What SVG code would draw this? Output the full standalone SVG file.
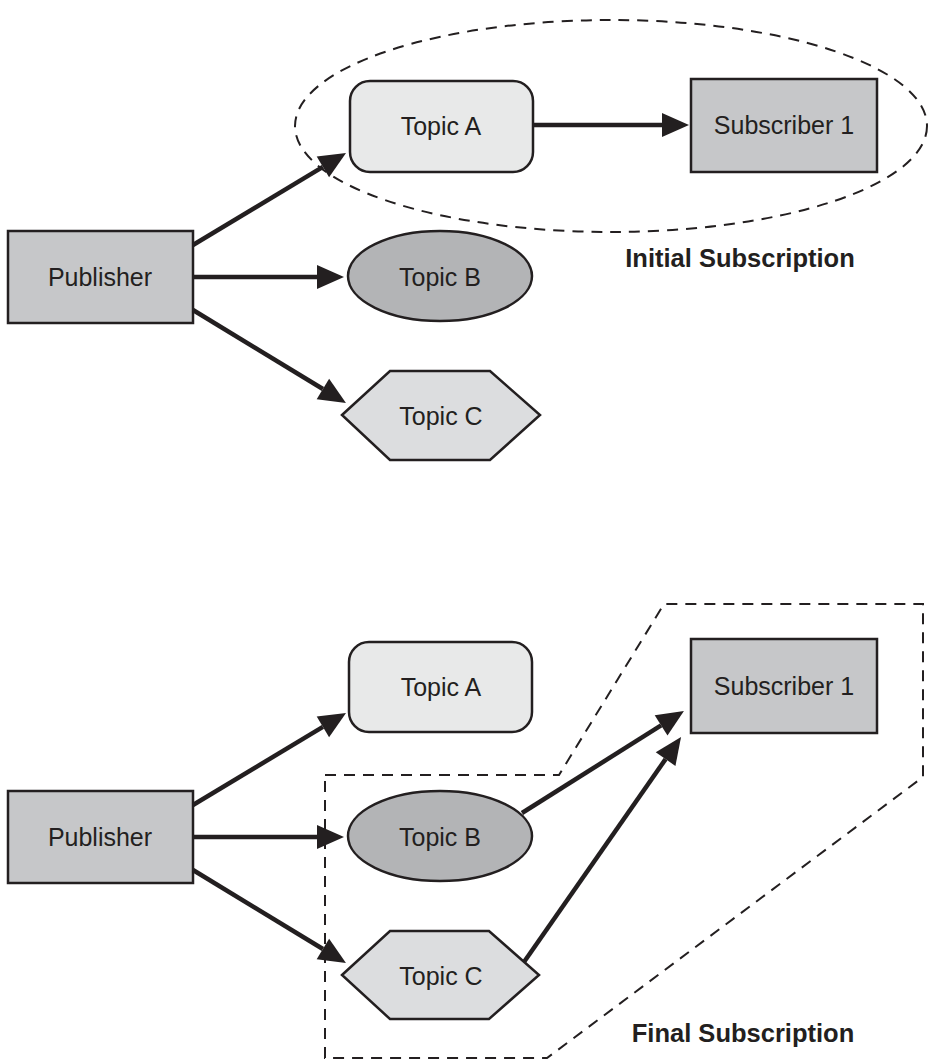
<svg xmlns="http://www.w3.org/2000/svg" width="934" height="1060" viewBox="0 0 934 1060">
<style>
.node{stroke:#231f20;stroke-width:2.5}
.lbl{font-family:"Liberation Sans",Arial,sans-serif;font-size:25px;fill:#231f20;text-anchor:middle}
.cap{font-family:"Liberation Sans",Arial,sans-serif;font-size:25.5px;font-weight:bold;fill:#231f20;text-anchor:middle}
.conn{stroke:#231f20;stroke-width:4.5;fill:none;marker-end:url(#ah)}
.dash{stroke:#231f20;stroke-width:2;fill:none;stroke-dasharray:11 8}
</style>
<defs>
<marker id="ah" markerUnits="userSpaceOnUse" markerWidth="28" markerHeight="26" refX="0" refY="13" orient="auto" overflow="visible">
<path d="M0,1 L27,13 L0,25 Z" fill="#231f20"/>
</marker>
</defs>
<rect width="934" height="1060" fill="#fff"/>

<!-- Top section -->
<g id="initial-group">
<ellipse cx="611" cy="126" rx="316" ry="106" class="dash"/>
<text x="740" y="267" class="cap">Initial Subscription</text>
</g>
<g id="pub1"><rect x="8" y="231" width="185" height="92" fill="#c6c7c9" class="node"/><text x="100" y="286" class="lbl">Publisher</text></g>
<g id="topicA1"><rect x="350" y="81" width="183" height="91" rx="20" fill="#e8e9e9" class="node"/><text x="441" y="135" class="lbl">Topic A</text></g>
<g id="sub1a"><rect x="691" y="79" width="186" height="93" fill="#c6c7c9" class="node"/><text x="784" y="134" class="lbl">Subscriber 1</text></g>
<g id="topicB1"><ellipse cx="440" cy="276" rx="92" ry="45" fill="#b3b4b6" class="node"/><text x="440" y="286" class="lbl">Topic B</text></g>
<g id="topicC1"><polygon points="342,415 390,371 490,371 540,415 490,460 390,460" fill="#dcdddf" class="node"/><text x="441" y="425" class="lbl">Topic C</text></g>

<!-- Bottom section -->
<g id="final-group">
<polygon points="325,775 559,775 664,604 923,604 923,777 547,1058 325,1058" class="dash"/>
<text x="743" y="1042" class="cap">Final Subscription</text>
</g>
<g id="pub2"><rect x="8" y="791" width="185" height="92" fill="#c6c7c9" class="node"/><text x="100" y="846" class="lbl">Publisher</text></g>
<g id="topicA2"><rect x="349" y="642" width="183" height="90" rx="20" fill="#e8e9e9" class="node"/><text x="441" y="696" class="lbl">Topic A</text></g>
<g id="sub1b"><rect x="691" y="639" width="186" height="94" fill="#c6c7c9" class="node"/><text x="784" y="695" class="lbl">Subscriber 1</text></g>
<g id="topicB2"><ellipse cx="440" cy="836" rx="92" ry="45" fill="#b3b4b6" class="node"/><text x="440" y="846" class="lbl">Topic B</text></g>
<g id="topicC2"><polygon points="342,975 390,931 489,931 539,975 489,1019 390,1019" fill="#dcdddf" class="node"/><text x="441" y="985" class="lbl">Topic C</text></g>

<g id="connectors">
<line x1="193" y1="245" x2="322.9" y2="166.9" class="conn"/>
<line x1="193" y1="277" x2="317" y2="277" class="conn"/>
<line x1="193" y1="310" x2="322.9" y2="389" class="conn"/>
<line x1="533" y1="125" x2="662" y2="125" class="conn"/>
<line x1="193" y1="805" x2="322.9" y2="726.9" class="conn"/>
<line x1="193" y1="837" x2="317" y2="837" class="conn"/>
<line x1="193" y1="870" x2="322.9" y2="949" class="conn"/>
<line x1="522" y1="813" x2="661.1" y2="725.4" class="conn"/>
<line x1="524" y1="962" x2="665.6" y2="759.1" class="conn"/>
</g>
</svg>
